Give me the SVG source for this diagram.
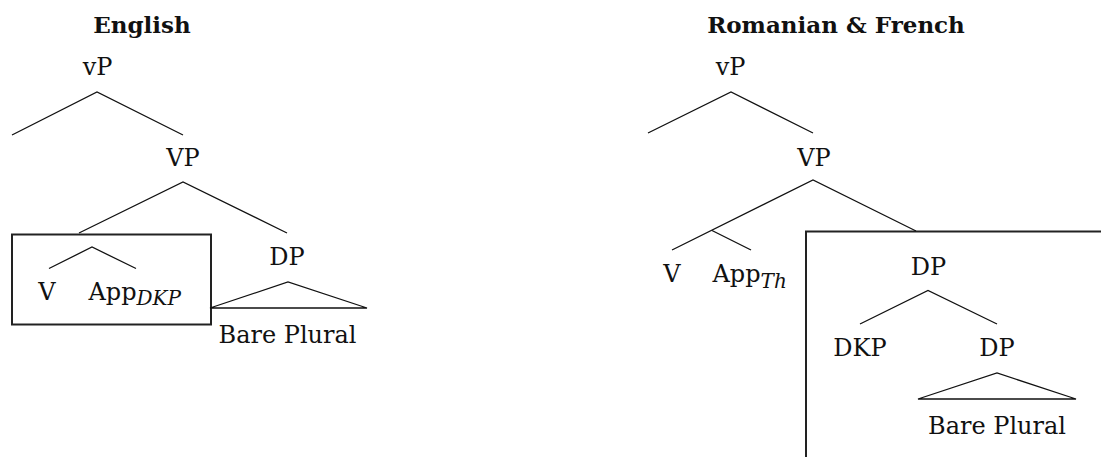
<svg xmlns="http://www.w3.org/2000/svg" width="1101" height="457" viewBox="0 0 1101 457">
<style>
text{font-family:"DejaVu Serif","Liberation Serif",serif;font-size:24px;fill:#111}
.t{font-weight:bold;font-size:23px;text-anchor:middle}
.c{text-anchor:middle}
.sub{font-style:italic;font-size:20px}
.e{stroke:#111;stroke-width:1.3;fill:none}
.box{stroke:#222;stroke-width:2;fill:none}
</style>
<rect width="1101" height="457" fill="#fff"/>
<g id="titles">
<text class="t" x="142" y="33">English</text>
<text class="t" x="836" y="33">Romanian &amp; French</text>
</g>
<g id="boxes">
<rect id="box-en" class="box" x="12" y="234.5" width="199" height="90"/>
<rect id="box-ro" class="box" x="806" y="231.5" width="320" height="250"/>
</g>
<g id="connectors">
<polyline class="e" points="12,135 97,92 183,135"/>
<polyline class="e" points="79,233 183,182 287,233"/>
<polyline class="e" points="49,268.5 92,247 136,268.5"/>
<polygon class="e" points="210,308 288,282 367,308"/>
<polyline class="e" points="648,133 731,92 813,133"/>
<polyline class="e" points="672,250 813,180 916,231"/>
<line class="e" x1="712" y1="230.5" x2="751" y2="250"/>
<polyline class="e" points="860,324 928,290.5 997,324"/>
<polygon class="e" points="918,399 997,373 1076,399"/>
</g>
<g id="en-vP"><text class="c" x="97.5" y="75">vP</text></g>
<g id="en-VP"><text class="c" x="183" y="166">VP</text></g>
<g id="en-V"><text class="c" x="47" y="300">V</text></g>
<g id="en-App"><text x="88.5" y="300">App<tspan class="sub" dy="5">DKP</tspan></text></g>
<g id="en-DP"><text class="c" x="287" y="265">DP</text></g>
<g id="en-BP"><text class="c" x="287.5" y="342.5">Bare Plural</text></g>
<g id="ro-vP"><text class="c" x="730.5" y="75">vP</text></g>
<g id="ro-VP"><text class="c" x="814" y="166">VP</text></g>
<g id="ro-V"><text class="c" x="672" y="282">V</text></g>
<g id="ro-App"><text x="712.5" y="282">App<tspan class="sub" dy="5.5">Th</tspan></text></g>
<g id="ro-DP1"><text class="c" x="928.5" y="274.5">DP</text></g>
<g id="ro-DKP"><text class="c" x="860" y="356">DKP</text></g>
<g id="ro-DP2"><text class="c" x="997" y="356">DP</text></g>
<g id="ro-BP"><text class="c" x="997" y="433.5">Bare Plural</text></g>
</svg>
